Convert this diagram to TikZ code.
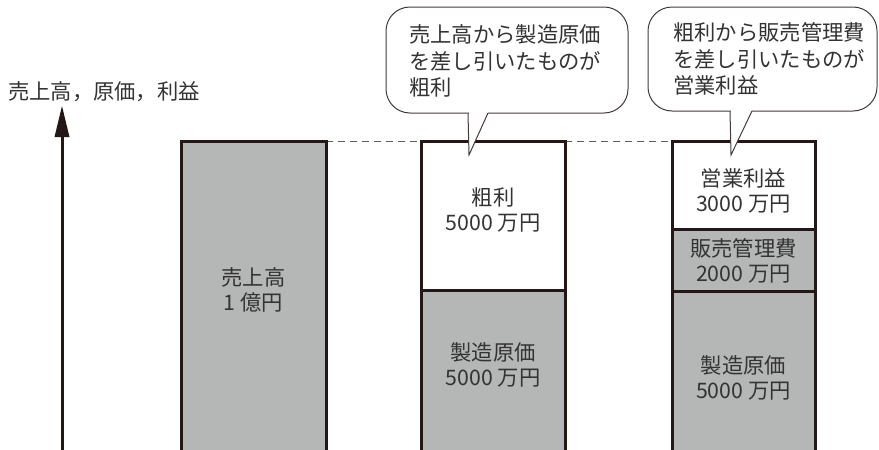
\documentclass[tikz,border=0pt]{standalone}
\usepackage{fontspec}
\newfontfamily\jp{Noto Sans CJK JP}
\definecolor{ink}{HTML}{231815}
\definecolor{barfill}{HTML}{B5B6B6}
\definecolor{txt}{HTML}{333333}
\tikzset{
  lbl/.style={font=\jp\fontsize{21.3}{25}\selectfont, text=txt, align=center, inner sep=0pt},
  cotext/.style={font=\jp\fontsize{21.3}{26.5}\selectfont, text=txt, align=left, inner sep=0pt, anchor=north west},
  barline/.style={draw=ink, line width=3pt},
  calloutline/.style={draw=ink!85, line width=1pt},
  guide/.style={draw=ink!70, line width=0.8pt, dash pattern=on 7pt off 5pt}
}
\begin{document}
\begin{tikzpicture}[x=1pt,y=-1pt]
\useasboundingbox (0,0) rectangle (879,450);
% guide dashed line
\draw[guide] (326,141) -- (421,141);
\draw[guide] (565,141) -- (672,141);
% axis
\draw[ink, line width=3pt] (62,450) -- (62,130);
\fill[ink] (62,106) -- (54.5,137) -- (69.5,137) -- cycle;
\node[lbl, anchor=west] (axislabel) at (8,92) {売上高，原価，利益};
% bar 1
\fill[barfill] (181,141) rectangle (326,452);
\draw[barline] (181,452) -- (181,141) -- (326,141) -- (326,452);
\node[lbl] (sales) at (253.5,289.5) {売上高\\1 億円};
% bar 2
\fill[barfill] (421,290) rectangle (565,452);
\draw[barline] (421,452) -- (421,141) -- (565,141) -- (565,452);
\draw[barline] (421,290) -- (565,290);
\node[lbl] (gross) at (493,209.5) {粗利\\5000 万円};
\node[lbl] (cost1) at (493,365) {製造原価\\5000 万円};
% bar 3
\fill[barfill] (672,229) rectangle (815,452);
\draw[barline] (672,452) -- (672,141) -- (815,141) -- (815,452);
\draw[barline] (672,229) -- (815,229);
\draw[barline] (672,291) -- (815,291);
\node[lbl] (op) at (743.5,190.5) {営業利益\\3000 万円};
\node[lbl] (sga) at (743.5,260.5) {販売管理費\\2000 万円};
\node[lbl] (cost2) at (743.5,378) {製造原価\\5000 万円};
% callout 1
\draw[calloutline, fill=white, rounded corners=24pt] (386,7) rectangle (628,113);
\fill[white] (468.6,111) rectangle (487.6,115.5);
\fill[white] (468.5,112) -- (469,155) -- (487.8,112) -- cycle;
\draw[calloutline] (468,113) -- (469,155) -- (488,113);
\node[cotext] (co1) at (409,24.5) {売上高から製造原価\\を差し引いたものが\\粗利};
% callout 2
\draw[calloutline, fill=white, rounded corners=24pt] (648,7) rectangle (877,111);
\fill[white] (730.6,109) rectangle (751.6,113.5);
\fill[white] (730.5,110) -- (731,155) -- (751.8,110) -- cycle;
\draw[calloutline] (730,111) -- (731,155) -- (752,111);
\node[cotext] (co2) at (673,22.5) {粗利から販売管理費\\を差し引いたものが\\営業利益};
\end{tikzpicture}
\end{document}
